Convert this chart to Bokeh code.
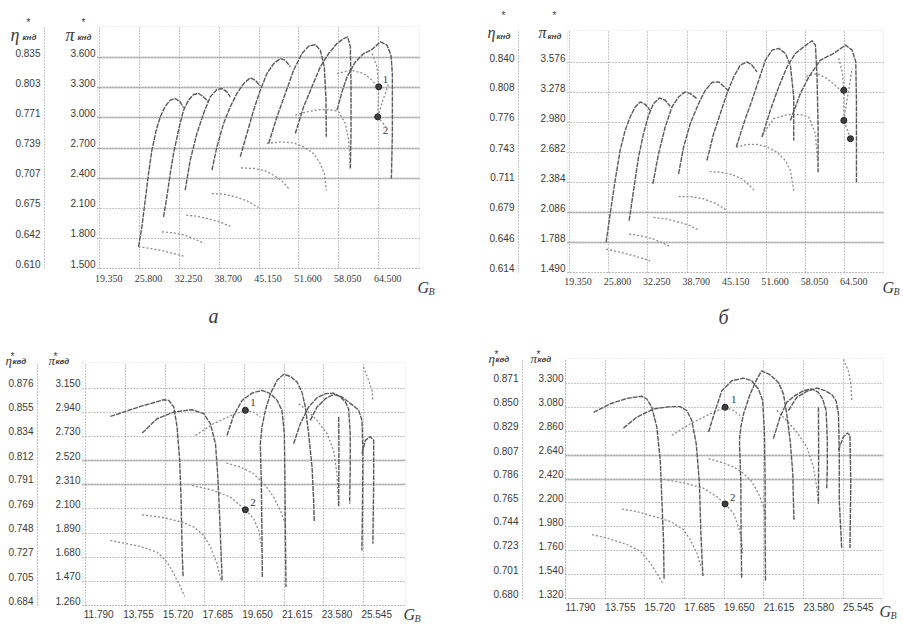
from bokeh.plotting import figure
from bokeh.models import (Range1d, LinearAxis, FixedTicker, Label, ColumnDataSource,
                          Grid, BoxAnnotation)
from bokeh.layouts import column, row
from bokeh.embed import file_html
from bokeh.resources import INLINE

# ================= panel а (top left) =================
A_G_TICKS = [19.350, 25.800, 32.250, 38.700, 45.150, 51.600, 58.050, 64.500]
A_PI_TICKS = [1.500, 1.800, 2.100, 2.400, 2.700, 3.000, 3.300, 3.600]
A_ETA_TICKS = [0.610, 0.642, 0.675, 0.707, 0.739, 0.771, 0.803, 0.835]
A_LINE_G = [
    [25.64, 26.18, 26.72, 27.26, 27.80, 28.50, 29.15, 29.96, 30.77, 31.57, 32.38, 32.92],
    [29.69, 30.23, 30.77, 31.30, 32.11, 32.92, 33.73, 34.54, 35.35, 36.16, 36.97],
    [33.19, 34.00, 35.08, 36.16, 37.24, 38.32, 39.13, 39.94, 40.48],
    [37.51, 38.32, 39.40, 40.48, 41.56, 42.64, 43.72, 44.53, 45.34],
    [42.10, 43.18, 44.26, 45.34, 46.42, 47.50, 48.58, 49.39, 50.19],
    [46.69, 48.04, 49.39, 50.73, 52.08, 53.16, 54.24, 55.05, 55.70, 55.97, 56.02],
    [51.00, 52.35, 53.70, 55.05, 56.40, 57.75, 58.83, 59.48, 59.91, 60.02, 60.02, 59.91],
    [57.75, 58.56, 59.37, 60.72, 62.07, 63.42, 64.77, 65.85, 66.49, 66.71, 66.71, 66.55],
]
A_LINE_PI = [
    [1.716, 1.915, 2.180, 2.446, 2.678, 2.877, 3.010, 3.116, 3.176, 3.193, 3.160, 3.103],
    [2.014, 2.214, 2.446, 2.645, 2.877, 3.077, 3.176, 3.233, 3.243, 3.209, 3.160],
    [2.280, 2.579, 2.844, 3.043, 3.209, 3.282, 3.292, 3.259, 3.209],
    [2.479, 2.711, 2.944, 3.110, 3.243, 3.342, 3.399, 3.375, 3.316],
    [2.612, 2.844, 3.077, 3.276, 3.442, 3.541, 3.591, 3.574, 3.508],
    [2.745, 3.010, 3.243, 3.475, 3.641, 3.714, 3.730, 3.674, 3.508, 3.176, 2.811],
    [2.844, 3.110, 3.309, 3.508, 3.641, 3.740, 3.790, 3.807, 3.707, 3.342, 2.844, 2.496],
    [3.077, 3.259, 3.408, 3.558, 3.641, 3.681, 3.757, 3.724, 3.624, 3.442, 2.844, 2.396],
]
A_EFF_G = [
    [25.64, 27.53, 29.69, 31.30, 32.92],
    [29.42, 31.30, 33.19, 34.81, 36.27],
    [33.35, 35.08, 36.97, 38.86, 40.48],
    [37.51, 39.40, 41.29, 43.18, 45.07],
    [42.21, 44.26, 46.15, 47.77, 49.01, 49.93],
    [46.42, 48.58, 50.73, 52.35, 53.97, 55.05, 55.70, 56.02],
    [51.00, 52.89, 55.05, 57.21, 58.02, 59.10, 59.64, 59.91],
    [57.75, 59.91, 62.07, 63.42, 64.34],
    [63.42, 64.23, 64.50, 64.34, 65.69],
    [64.34, 65.20, 66.12],
]
A_EFF_PI = [
    [1.716, 1.699, 1.676, 1.649, 1.623],
    [1.865, 1.855, 1.832, 1.792, 1.749],
    [2.031, 2.021, 1.995, 1.961, 1.922],
    [2.247, 2.240, 2.214, 2.174, 2.107],
    [2.502, 2.496, 2.473, 2.419, 2.363, 2.297],
    [2.745, 2.761, 2.751, 2.711, 2.645, 2.545, 2.446, 2.280],
    [3.027, 3.060, 3.083, 3.077, 3.060, 2.944, 2.778, 2.496],
    [3.442, 3.475, 3.442, 3.375, 3.302],
    [3.641, 3.508, 3.309, 3.010, 2.911],
    [3.010, 3.180, 3.342],
]
A_PTS_G = [64.50, 64.34]
A_PTS_PI = [3.309, 3.010]
A_PTS_NUM = ["1", "2"]

# ================= panel б (top right) =================
B_G_TICKS = [19.350, 25.800, 32.250, 38.700, 45.150, 51.600, 58.050, 64.500]
B_PI_TICKS = [1.490, 1.788, 2.086, 2.384, 2.682, 2.980, 3.278, 3.576]
B_ETA_TICKS = [0.614, 0.646, 0.679, 0.711, 0.743, 0.776, 0.808, 0.840]
B_LINE_G = [
    [25.42, 26.07, 26.89, 27.71, 28.53, 29.35, 30.17, 30.99, 31.81, 32.63],
    [29.19, 29.90, 30.72, 31.54, 32.36, 33.18, 34.16, 35.09, 35.91],
    [33.07, 34.00, 35.09, 36.19, 37.28, 38.37, 39.19, 40.28],
    [37.28, 38.10, 39.19, 40.56, 41.65, 42.74, 43.84, 44.66, 45.48],
    [41.92, 43.02, 44.11, 45.20, 46.30, 47.39, 48.48, 49.30, 50.12],
    [46.73, 47.94, 49.30, 50.40, 51.49, 52.58, 53.68, 54.77, 55.59, 56.14, 56.14],
    [50.94, 52.31, 53.68, 55.04, 56.41, 57.78, 59.14, 59.69, 59.96, 60.13, 60.13],
    [55.59, 57.23, 58.60, 60.51, 62.70, 64.61, 65.70, 66.30, 66.41, 66.41],
]
B_LINE_PI = [
    [1.789, 2.071, 2.404, 2.703, 2.902, 3.035, 3.134, 3.184, 3.161, 3.101],
    [2.005, 2.304, 2.636, 2.869, 3.051, 3.168, 3.224, 3.201, 3.141],
    [2.370, 2.669, 2.935, 3.134, 3.234, 3.284, 3.267, 3.217],
    [2.470, 2.736, 2.968, 3.168, 3.300, 3.377, 3.384, 3.340, 3.294],
    [2.603, 2.869, 3.068, 3.267, 3.433, 3.550, 3.583, 3.550, 3.483],
    [2.736, 2.968, 3.201, 3.400, 3.599, 3.699, 3.716, 3.666, 3.550, 3.234, 2.802],
    [2.835, 3.101, 3.334, 3.533, 3.666, 3.732, 3.792, 3.749, 3.433, 2.935, 2.487],
    [3.001, 3.267, 3.433, 3.599, 3.666, 3.749, 3.699, 3.583, 3.201, 2.387],
]
B_EFF_G = [
    [25.42, 27.17, 29.35, 31.27, 32.63],
    [29.19, 30.99, 33.18, 34.82, 35.91],
    [33.18, 35.37, 37.55, 39.19, 40.56],
    [37.28, 39.19, 41.38, 43.56, 45.20],
    [42.36, 44.11, 46.02, 47.66, 48.92, 49.69],
    [46.73, 48.48, 50.12, 51.76, 53.40, 54.77, 55.59, 56.14],
    [50.94, 52.86, 55.04, 57.23, 58.60, 59.69, 60.02],
    [58.21, 59.96, 61.60, 63.24, 64.34],
    [63.50, 64.10, 64.34, 64.34, 65.43],
    [64.34, 65.00, 65.70],
]
B_EFF_PI = [
    [1.722, 1.699, 1.666, 1.633, 1.606],
    [1.872, 1.855, 1.822, 1.779, 1.746],
    [2.038, 2.021, 1.988, 1.955, 1.912],
    [2.244, 2.244, 2.221, 2.171, 2.105],
    [2.493, 2.487, 2.463, 2.420, 2.354, 2.304],
    [2.736, 2.762, 2.762, 2.736, 2.686, 2.603, 2.503, 2.304],
    [2.852, 3.018, 3.058, 3.058, 3.035, 2.869, 2.603],
    [3.440, 3.466, 3.417, 3.334, 3.267],
    [3.620, 3.480, 3.300, 3.001, 2.819],
    [3.001, 3.250, 3.516],
]
B_PTS_G = [64.34, 64.34, 65.43]
B_PTS_PI = [3.300, 3.001, 2.819]
B_PTS_NUM = []

# ================= bottom left =================
C_G_TICKS = [11.790, 13.755, 15.720, 17.685, 19.650, 21.615, 23.580, 25.545]
C_PI_TICKS = [1.260, 1.470, 1.680, 1.890, 2.100, 2.310, 2.520, 2.730, 2.940, 3.150]
C_ETA_TICKS = [0.684, 0.705, 0.727, 0.748, 0.769, 0.791, 0.812, 0.834, 0.855, 0.876]
C_LINE_G = [
    [13.01, 14.50, 15.65, 15.90, 16.15, 16.31, 16.44, 16.51, 16.56, 16.61],
    [14.58, 15.32, 16.15, 17.05, 17.63, 17.96, 18.21, 18.32, 18.42, 18.49, 18.54],
    [18.78, 19.11, 19.53, 20.02, 20.51, 20.93, 21.26, 21.50, 21.62, 21.65, 21.67, 21.70],
    [20.53, 20.51, 20.48, 20.43, 20.51, 20.68, 20.93, 21.26, 21.59, 21.92, 22.25, 22.49, 22.66, 22.82, 22.99, 23.07, 23.10],
    [22.08, 22.41, 22.82, 23.24, 23.65, 24.06, 24.39, 24.64, 24.80, 24.88, 24.88, 24.85],
    [22.90, 23.24, 23.65, 24.06, 24.47, 24.80, 25.08, 25.30, 25.46, 25.51, 25.49, 25.46],
    [25.46, 25.63, 25.87, 26.04, 26.04, 26.00],
    [24.31, 24.32, 24.31],
]
C_LINE_PI = [
    [2.904, 2.991, 3.049, 3.044, 2.986, 2.812, 2.522, 2.174, 1.739, 1.507],
    [2.759, 2.884, 2.942, 2.962, 2.928, 2.841, 2.667, 2.406, 2.029, 1.710, 1.478],
    [2.739, 2.913, 3.044, 3.107, 3.131, 3.102, 3.044, 2.957, 2.754, 2.319, 1.884, 1.420],
    [1.507, 1.884, 2.319, 2.667, 2.812, 2.957, 3.102, 3.218, 3.270, 3.252, 3.203, 3.116, 2.986, 2.754, 2.464, 2.174, 1.985],
    [2.667, 2.841, 2.986, 3.067, 3.102, 3.107, 3.073, 3.029, 2.971, 2.754, 2.464, 2.145],
    [2.870, 2.986, 3.058, 3.096, 3.073, 3.029, 2.991, 2.957, 2.870, 2.609, 2.174, 1.739],
    [2.580, 2.696, 2.730, 2.696, 2.319, 1.797],
    [2.899, 2.609, 2.116],
]
C_EFF_G = [
    [13.01, 14.50, 15.32, 15.82, 16.15, 16.48, 16.69],
    [14.58, 15.65, 16.56, 17.14, 17.63, 17.96, 18.29, 18.49],
    [17.05, 18.12, 18.95, 19.69, 20.10, 20.35, 20.51],
    [18.75, 19.44, 20.10, 20.68, 21.09, 21.42, 21.67],
    [17.22, 18.12, 19.11, 19.69, 20.10, 20.43],
    [22.33, 22.74, 23.24, 23.73, 24.06, 24.22, 24.31],
    [25.54, 25.79, 25.96, 26.00],
]
C_EFF_PI = [
    [1.826, 1.773, 1.724, 1.637, 1.536, 1.420, 1.338],
    [2.049, 2.023, 1.985, 1.942, 1.869, 1.768, 1.623, 1.478],
    [2.304, 2.261, 2.203, 2.092, 2.014, 1.913, 1.739],
    [2.498, 2.464, 2.406, 2.304, 2.203, 2.087, 1.971],
    [2.739, 2.841, 2.922, 2.957, 2.942, 2.899],
    [3.015, 2.957, 2.870, 2.754, 2.609, 2.406, 2.116],
    [3.334, 3.218, 3.131, 3.044],
]
C_PTS_G = [19.69, 19.69]
C_PTS_PI = [2.957, 2.092]
C_PTS_NUM = ["1", "2"]

# ================= bottom right =================
D_G_TICKS = [11.790, 13.755, 15.720, 17.685, 19.650, 21.615, 23.580, 25.545]
D_PI_TICKS = [1.320, 1.540, 1.760, 1.980, 2.200, 2.420, 2.640, 2.860, 3.080, 3.300]
D_ETA_TICKS = [0.680, 0.701, 0.723, 0.744, 0.765, 0.786, 0.807, 0.829, 0.850, 0.871]
D_LINE_G = [
    [13.18, 14.00, 14.83, 15.57, 15.82, 16.06, 16.31, 16.48, 16.56, 16.64, 16.67],
    [14.66, 15.32, 16.15, 16.97, 17.46, 17.79, 18.04, 18.26, 18.42, 18.49, 18.59],
    [18.87, 19.20, 19.53, 20.02, 20.60, 21.01, 21.34, 21.55, 21.64, 21.67, 21.67, 21.69],
    [20.51, 20.48, 20.47, 20.40, 20.47, 20.60, 20.93, 21.26, 21.50, 21.92, 22.33, 22.58, 22.74, 22.91, 23.04, 23.07, 23.10],
    [22.08, 22.41, 22.74, 23.15, 23.57, 23.98, 24.31, 24.52, 24.69, 24.75, 24.75, 24.72],
    [22.82, 23.24, 23.73, 24.22, 24.64, 24.97, 25.18, 25.30, 25.34, 25.34, 25.46],
    [25.30, 25.54, 25.74, 25.87, 25.91, 25.87],
    [24.31, 24.32, 24.31],
]
D_LINE_PI = [
    [3.035, 3.112, 3.163, 3.182, 3.157, 3.081, 2.898, 2.594, 2.228, 1.862, 1.497],
    [2.889, 2.990, 3.066, 3.087, 3.087, 3.051, 2.959, 2.746, 2.380, 1.923, 1.527],
    [2.853, 3.051, 3.234, 3.325, 3.349, 3.325, 3.249, 3.142, 2.837, 2.380, 1.923, 1.481],
    [1.512, 1.923, 2.380, 2.776, 2.898, 3.020, 3.203, 3.340, 3.416, 3.380, 3.310, 3.203, 3.020, 2.776, 2.472, 2.228, 2.045],
    [2.792, 2.990, 3.127, 3.188, 3.234, 3.249, 3.218, 3.157, 3.051, 2.776, 2.533, 2.335],
    [3.051, 3.173, 3.227, 3.258, 3.234, 3.197, 3.142, 3.020, 2.685, 2.228, 1.786],
    [2.685, 2.807, 2.844, 2.822, 2.380, 1.786],
    [3.081, 2.685, 2.191],
]
D_EFF_G = [
    [13.10, 13.84, 14.83, 15.49, 15.98, 16.39, 16.64],
    [14.58, 15.32, 16.15, 16.97, 17.63, 17.96, 18.29, 18.49],
    [16.64, 17.63, 18.62, 19.28, 19.69, 20.10, 20.35, 20.51, 20.56],
    [18.87, 19.44, 20.10, 20.60, 21.01, 21.34, 21.59, 21.72],
    [17.05, 17.96, 18.95, 19.69, 20.10, 20.43],
    [22.25, 22.74, 23.24, 23.73, 24.06, 24.22, 24.31],
    [25.54, 25.79, 25.92, 25.96],
]
D_EFF_PI = [
    [1.908, 1.878, 1.817, 1.756, 1.649, 1.527, 1.451],
    [2.143, 2.121, 2.076, 2.030, 1.954, 1.862, 1.740, 1.619],
    [2.417, 2.386, 2.335, 2.258, 2.191, 2.106, 1.984, 1.862, 1.740],
    [2.609, 2.578, 2.533, 2.472, 2.396, 2.289, 2.167, 2.045],
    [2.822, 2.929, 3.020, 3.081, 3.051, 3.005],
    [3.051, 2.959, 2.853, 2.715, 2.533, 2.350, 2.191],
    [3.523, 3.416, 3.294, 3.142],
]
D_PTS_G = [19.69, 19.69]
D_PTS_PI = [3.081, 2.191]
D_PTS_NUM = ["1", "2"]

# ================= styling =================
INK = "#3a3a3a"
DARK = "#5a5a5a"
LIGHT = "#8c8c8c"
GRIDC = "#8a8a8a"
SCAN = "#cdcdcd"
FX = "Liberation Sans Narrow"
FY = "Liberation Sans"
SERIF = "Liberation Serif"
HAS_CB = "cross_bounds" in Grid.properties()


def lab(p, x, y, dx, dy, text, size, font=SERIF, style="italic", align="left"):
    p.add_layout(Label(x=x, y=y, x_offset=dx, y_offset=dy, text=text,
                       text_font=font, text_font_style=style, text_font_size=size,
                       text_color=INK, text_align=align, text_baseline="alphabetic",
                       text_line_height=1.0))


def lines_at(p, dim, ticks, lo, hi, color, width, dash):
    if HAS_CB:
        p.add_layout(Grid(dimension=dim, ticker=FixedTicker(ticks=list(ticks)),
                          cross_bounds=(lo, hi), grid_line_color=color,
                          grid_line_width=width, grid_line_dash=dash))
    else:
        n = len(ticks)
        if dim == 0:
            p.segment(x0=list(ticks), y0=[lo] * n, x1=list(ticks), y1=[hi] * n,
                      line_color=color, line_width=width, line_dash=dash, level="underlay")
        else:
            p.segment(x0=[lo] * n, y0=list(ticks), x1=[hi] * n, y1=list(ticks),
                      line_color=color, line_width=width, line_dash=dash, level="underlay")


def style_axis(ax, font, standoff):
    ax.axis_line_color = None
    ax.major_tick_line_color = None
    ax.minor_tick_line_color = None
    ax.major_tick_out = 0
    ax.major_tick_in = 0
    ax.minor_tick_out = 0
    ax.minor_tick_in = 0
    ax.major_label_standoff = standoff
    ax.major_label_text_font = font
    ax.major_label_text_font_size = "10px"
    ax.major_label_text_color = INK


def build(canvas, box_px, box_x, box_pi, x_ticks, pi_ticks, eta_ticks, eta_gap, xlab,
          line_g, line_pi, eff_g, eff_pi, pts_g, pts_pi, nums, num_offs,
          scan, sub, hdr, letter, gb):
    ox, oy, W, H = canvas
    bx0, by0, bx1, by1 = box_px
    x0, x1 = box_x
    p0, p1 = box_pi
    kx = (x1 - x0) / (bx1 - bx0)
    ky = (p1 - p0) / (by1 - by0)
    xr = (x0 - (bx0 - ox) * kx, x1 + (ox + W - bx1) * kx)
    yr = (p0 - (oy + H - by1) * ky, p1 + (by0 - oy) * ky)

    p = figure(width=W, height=H, x_range=Range1d(*xr), y_range=Range1d(*yr),
               output_backend="svg", toolbar_location=None,
               min_border_left=0, min_border_right=0, min_border_top=0, min_border_bottom=0,
               background_fill_color="white", border_fill_color="white")
    p.outline_line_color = None
    p.xgrid.visible = False
    p.ygrid.visible = False

    # x axis at the bottom of the box; labels start at their tick
    xfont, xshift, xstand = xlab
    xs = xshift * kx
    xa = p.xaxis[0]
    xa.fixed_location = p0
    xa.ticker = FixedTicker(ticks=[t + xs for t in x_ticks])
    xa.major_label_overrides = {t + xs: "%.3f" % t for t in x_ticks}
    style_axis(xa, xfont, xstand)

    # pi axis on the box's left edge; labels sit just above their grid line
    ys = 5 * ky
    ya = p.yaxis[0]
    ya.fixed_location = x0
    ya.ticker = FixedTicker(ticks=[t + ys for t in pi_ticks])
    ya.major_label_overrides = {t + ys: "%.3f" % t for t in pi_ticks}
    style_axis(ya, FY, 2)

    # eta axis further left, dotted line
    slope = (eta_ticks[-1] - eta_ticks[0]) / (pi_ticks[-1] - pi_ticks[0])
    eta = lambda v: eta_ticks[0] + (v - pi_ticks[0]) * slope
    p.extra_y_ranges = {"eta": Range1d(eta(yr[0]), eta(yr[1]))}
    es = ys * slope
    ea = LinearAxis(y_range_name="eta", fixed_location=x0 - eta_gap * kx,
                    ticker=FixedTicker(ticks=[t + es for t in eta_ticks]),
                    bounds=(eta(p0), eta(p1)))
    ea.major_label_overrides = {t + es: "%.3f" % t for t in eta_ticks}
    style_axis(ea, FY, 4)
    ea.axis_line_color = GRIDC
    ea.axis_line_dash = "1 2"
    p.add_layout(ea, "left")

    # grid, scan shadows and box outline
    lines_at(p, 1, scan, x0, x1, SCAN, 2, "solid")
    lines_at(p, 0, x_ticks, p0, p1, GRIDC, 1, "1 2")
    lines_at(p, 1, pi_ticks, x0, x1, GRIDC, 1, "1 2")
    p.add_layout(BoxAnnotation(left=x0, right=x1, bottom=p0, top=p1, fill_color=None,
                               line_color=GRIDC, line_dash="1 2", line_width=1,
                               level="underlay"))

    p.multi_line(xs="xs", ys="ys", source=ColumnDataSource(dict(xs=eff_g, ys=eff_pi)),
                 line_color=LIGHT, line_width=1.3, line_dash="2 2")
    p.multi_line(xs="xs", ys="ys", source=ColumnDataSource(dict(xs=line_g, ys=line_pi)),
                 line_color=DARK, line_width=1.4, line_dash="5 1")
    p.scatter(pts_g, pts_pi, size=6, marker="circle", fill_color="#404040",
              line_color="#202020")
    for t, gx, gy, (odx, ody) in zip(nums, pts_g, pts_pi, num_offs):
        lab(p, gx, gy, odx, ody, t, "11px", style="normal")

    # axis headers (η*, π* with subscript)
    eta_dx, pi_dx, dy, gsize, ast_dx, ast_dy, sub_dx, sub_dy = hdr
    for sym, dx in (("η", eta_dx), ("π", pi_dx)):
        lab(p, x0, p1, dx, dy, sym, gsize)
        lab(p, x0, p1, dx + ast_dx, dy + ast_dy, "*", "10px", font=FY, style="normal")
        lab(p, x0, p1, dx + sub_dx, dy + sub_dy, sub, "8px", font=FY, style="bold italic")
    # G_B
    gdx, gdy = gb
    lab(p, x1, p0, gdx, gdy, "G", "16px")
    lab(p, x1, p0, gdx + 11, gdy - 4, "B", "10px")
    if letter:
        txt, ldx, ldy = letter
        lab(p, x0, p0, ldx, ldy, txt, "20px", align="center")
    return p


pa = build((0, 0, 450, 330), (97, 26, 419, 268), (19.0, 71.1), (1.5, 3.91),
           A_G_TICKS, A_PI_TICKS, A_ETA_TICKS, 53, (FX, 9, 6),
           A_LINE_G, A_LINE_PI, A_EFF_G, A_EFF_PI, A_PTS_G, A_PTS_PI,
           A_PTS_NUM, [(4, 7), (5, -14)],
           [3.6, 3.3, 3.0, 2.7, 2.4], "кнд",
           (-87, -32, -8, "18px", 16, 12, 12, -3), ("а", 116, -47), (-2, -19))
pb = build((450, 0, 453, 330), (567, 30, 883, 272), (19.09, 70.84), (1.49, 3.894),
           B_G_TICKS, B_PI_TICKS, B_ETA_TICKS, 49, (FX, 9, 5),
           B_LINE_G, B_LINE_PI, B_EFF_G, B_EFF_PI, B_PTS_G, B_PTS_PI,
           B_PTS_NUM, [],
           [2.086, 1.788], "кнд",
           (-80, -29, -2, "16px", 14, 17, 9, -4), ("б", 156, -44), (-1, -15))
pc = build((0, 330, 450, 294), (82, 362, 405, 605), (11.63, 27.615), (1.26, 3.373),
           C_G_TICKS, C_PI_TICKS, C_ETA_TICKS, 45, (FY, 13, 4),
           C_LINE_G, C_LINE_PI, C_EFF_G, C_EFF_PI, C_PTS_G, C_PTS_PI,
           C_PTS_NUM, [(5, 8), (5, 7)],
           [2.52, 2.31], "квд",
           (-77, -34, 2, "13px", 5, 4, 7, -1), None, (-2, -9))
pd_ = build((450, 330, 453, 294), (565, 358, 883, 598), (11.79, 27.53), (1.32, 3.53),
            D_G_TICKS, D_PI_TICKS, D_ETA_TICKS, 43, (FY, 15, 4),
            D_LINE_G, D_LINE_PI, D_EFF_G, D_EFF_PI, D_PTS_G, D_PTS_PI,
            D_PTS_NUM, [(6, 8), (5, 6)],
            [2.64, 2.42], "квд",
            (-77, -35, 0, "13px", 6, 4, 7, -1), None, (-4, -13))

layout = column(row(pa, pb), row(pc, pd_))
open("out.html", "w").write(file_html(layout, INLINE))
